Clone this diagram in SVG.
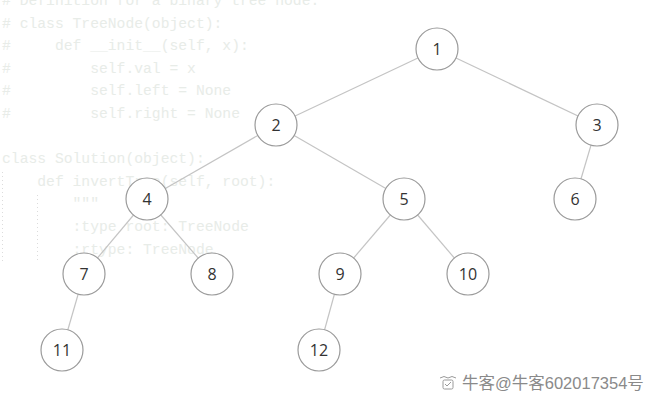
<svg xmlns="http://www.w3.org/2000/svg" width="655" height="404" viewBox="0 0 655 404">
<style>
.code{font-family:"Liberation Mono","DejaVu Sans Mono",monospace;font-size:14.7px;fill:#e8ece8;white-space:pre}
.guide{stroke:#dcdcdc;stroke-width:1;stroke-dasharray:1 3}
.edge{stroke:#c4c4c4;stroke-width:1.2}
.node circle{fill:#fff;stroke:#9a9a9a;stroke-width:1.2}
.node text{font-family:"Open Sans","Liberation Sans",sans-serif;font-size:16px;fill:#333;text-anchor:middle;dominant-baseline:central}
.wm{font-family:"Liberation Sans","Noto Sans CJK SC",sans-serif;font-size:16.5px;fill:#8a8a8a}
</style>
<rect width="655" height="404" fill="#fff"/>
<g id="code">
<text class="code" x="2" y="5" xml:space="preserve"># Definition for a binary tree node.</text>
<text class="code" x="2" y="27.5" xml:space="preserve"># class TreeNode(object):</text>
<text class="code" x="2" y="50" xml:space="preserve">#     def __init__(self, x):</text>
<text class="code" x="2" y="72.5" xml:space="preserve">#         self.val = x</text>
<text class="code" x="2" y="95" xml:space="preserve">#         self.left = None</text>
<text class="code" x="2" y="117.5" xml:space="preserve">#         self.right = None</text>
<text class="code" x="2" y="163" xml:space="preserve">class Solution(object):</text>
<text class="code" x="2" y="185.5" xml:space="preserve">    def invertTree(self, root):</text>
<text class="code" x="2" y="208" xml:space="preserve">        """</text>
<text class="code" x="2" y="231" xml:space="preserve">        :type root: TreeNode</text>
<text class="code" x="2" y="253.5" xml:space="preserve">        :rtype: TreeNode</text>
<line class="guide" x1="2.5" y1="172" x2="2.5" y2="262"/>
<line class="guide" x1="37.5" y1="195" x2="37.5" y2="262"/>
</g>
<g id="connectors">
<line class="edge" x1="437" y1="49" x2="276" y2="125"/>
<line class="edge" x1="437" y1="49" x2="597" y2="125"/>
<line class="edge" x1="276" y1="125" x2="147" y2="199"/>
<line class="edge" x1="276" y1="125" x2="404" y2="199"/>
<line class="edge" x1="597" y1="125" x2="575" y2="199"/>
<line class="edge" x1="147" y1="199" x2="84" y2="274"/>
<line class="edge" x1="147" y1="199" x2="212" y2="274"/>
<line class="edge" x1="404" y1="199" x2="340" y2="274"/>
<line class="edge" x1="404" y1="199" x2="468" y2="274"/>
<line class="edge" x1="84" y1="274" x2="62" y2="350"/>
<line class="edge" x1="340" y1="274" x2="319" y2="350"/>
</g>
<g id="n1" class="node"><circle cx="437" cy="49" r="21"/><text x="437" y="49">1</text></g>
<g id="n2" class="node"><circle cx="276" cy="125" r="21"/><text x="276" y="125">2</text></g>
<g id="n3" class="node"><circle cx="597" cy="125" r="21"/><text x="597" y="125">3</text></g>
<g id="n4" class="node"><circle cx="147" cy="199" r="21"/><text x="147" y="199">4</text></g>
<g id="n5" class="node"><circle cx="404" cy="199" r="21"/><text x="404" y="199">5</text></g>
<g id="n6" class="node"><circle cx="575" cy="199" r="21"/><text x="575" y="199">6</text></g>
<g id="n7" class="node"><circle cx="84" cy="274" r="21"/><text x="84" y="274">7</text></g>
<g id="n8" class="node"><circle cx="212" cy="274" r="21"/><text x="212" y="274">8</text></g>
<g id="n9" class="node"><circle cx="340" cy="274" r="21"/><text x="340" y="274">9</text></g>
<g id="n10" class="node"><circle cx="468" cy="274" r="21"/><text x="468" y="274">10</text></g>
<g id="n11" class="node"><circle cx="62" cy="350" r="21"/><text x="62" y="350">11</text></g>
<g id="n12" class="node"><circle cx="319" cy="350" r="21"/><text x="319" y="350">12</text></g>
<g id="watermark">
<g fill="none" stroke="#9a9a9a" stroke-width="1">
<path d="M440 378 q4 -3 8 0 q4 -3 8 0"/>
<rect x="443" y="380" width="10" height="9" rx="1.5"/>
<path d="M445 384 l2 2 l4 -4"/>
</g>
<text class="wm" x="462" y="389">牛客@牛客602017354号</text>
</g>
</svg>
